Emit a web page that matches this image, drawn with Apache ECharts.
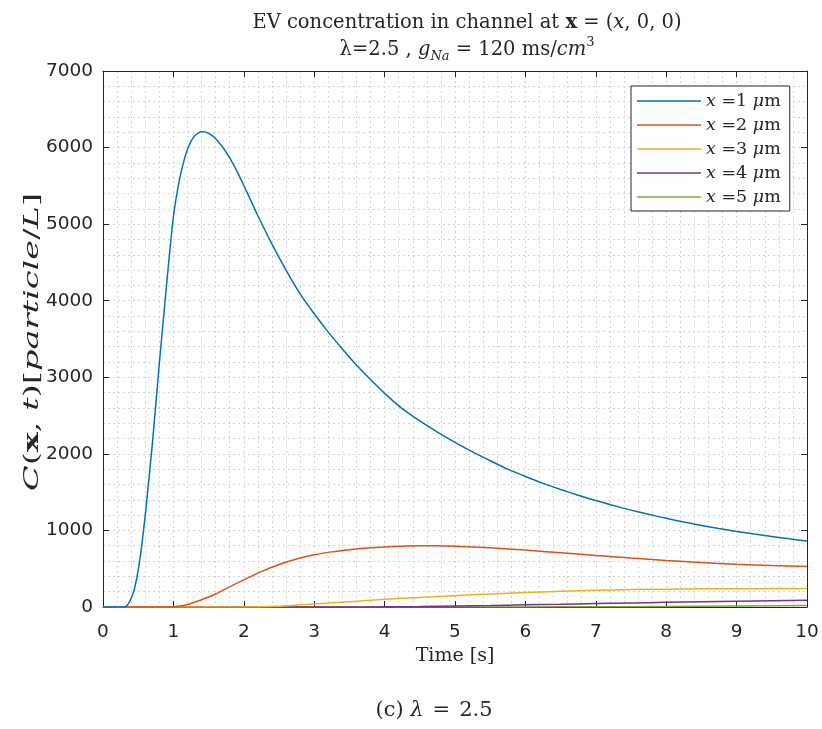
<!DOCTYPE html>
<html>
<head>
<meta charset="utf-8">
<script src="https://cdn.jsdelivr.net/npm/echarts@6/dist/echarts.min.js"></script>
<style>html,body{margin:0;padding:0;background:#fff}#c{width:822px;height:729px}</style>
</head>
<body>
<div id="c"></div>
<script>
// ---- data ----
const xTicks = [0,1,2,3,4,5,6,7,8,9,10];
const yTicks = [0,1000,2000,3000,4000,5000,6000,7000];
const seriesNames = ['x =1 μm','x =2 μm','x =3 μm','x =4 μm','x =5 μm'];

const blueT = [0,0.2,0.3,0.35,0.4,0.45,0.5,0.55,0.6,0.65,0.7,0.75,0.8,0.85,0.9,0.95,1.0,1.05,1.1,1.15,1.2,1.25,1.3,1.35,1.4,1.45,1.5,1.55,1.6,1.7,1.8,1.9,2.0,2.2,2.4,2.6,2.8,3.0,3.2,3.4,3.6,3.8,4.0,4.25,4.5,4.75,5.0,5.25,5.5,5.75,6.0,6.25,6.5,6.75,7.0,7.25,7.5,7.75,8.0,8.25,8.5,8.75,9.0,9.25,9.5,9.75,10];
const blueV = [0,0,0,30,110,250,480,800,1200,1650,2120,2650,3180,3680,4180,4660,5100,5400,5640,5830,5975,6080,6150,6190,6208,6205,6185,6155,6115,6005,5865,5695,5505,5110,4740,4400,4090,3830,3590,3370,3160,2970,2790,2590,2430,2285,2150,2025,1910,1800,1705,1615,1535,1460,1390,1325,1265,1210,1158,1110,1065,1025,987,952,920,890,862];

const orangeT = [0,0.9,1.0,1.1,1.2,1.3,1.4,1.5,1.6,1.75,2.0,2.25,2.5,2.75,3.0,3.25,3.5,3.75,4.0,4.25,4.5,4.75,5.0,5.5,6.0,6.5,7.0,7.5,8.0,8.5,9.0,9.5,10];
const orangeV = [0,0,3,12,32,62,95,130,170,240,355,462,555,628,682,720,748,770,785,795,800,799,793,773,743,709,673,639,608,581,558,541,528];

const yellowT = [0,2.0,2.5,3.0,3.5,4.0,4.5,5.0,5.5,6.0,6.5,7.0,7.5,8.0,8.5,9.0,9.5,10];
const yellowV = [0,0,10,40,70,100,125,148,170,188,205,218,227,233,237,239,240,240];

const purpleT = [0,3.5,4.0,4.5,5.0,5.5,6.0,6.5,7.0,7.5,8.0,8.5,9.0,9.5,10];
const purpleV = [0,0,3,7,13,20,28,36,45,53,61,68,75,82,88];

const greenT = [0,5.5,6.0,7.0,8.0,9.0,10];
const greenV = [0,0,1,3,7,13,20];

const colors = ['#0072BD','#D95319','#EDB120','#7E2F8E','#77AC30'];

function pairs(t, v){ return t.map((x,i)=>[x, v[i]]); }
const allT = [blueT, orangeT, yellowT, purpleT, greenT];
const allV = [blueV, orangeV, yellowV, purpleV, greenV];

const serif = '"DejaVu Serif","Liberation Serif",serif';
const sans = '"DejaVu Sans","Liberation Sans",Arial,sans-serif';
const ink = '#262626';
const grid = {left:103, right:15, top:71, bottom:122};

const splitStyle = {show:true, lineStyle:{color:'#d4d4d4', type:[2,3], width:1}};

const chart = echarts.init(document.getElementById('c'), null, {renderer:'canvas'});
chart.setOption({
  animation:false,
  backgroundColor:'#fff',
  title:{
    text:'EV concentration in channel at {b|x} = ({i|x}, 0, 0)\n{n|λ=2.5 , }{i|g}{sub|Na}{n| = 120 ms/}{i|cm}{sup|3}',
    left:462, top:4, textAlign:'center',
    textStyle:{
      fontFamily:serif, fontSize:19.5, fontWeight:'normal', color:ink, lineHeight:27,
      rich:{
        b:{fontFamily:serif, fontSize:19.5, fontWeight:'bold', color:ink},
        i:{fontFamily:serif, fontSize:19.5, fontStyle:'italic', color:ink},
        n:{fontFamily:serif, fontSize:19.5, color:ink},
        sub:{fontFamily:serif, fontSize:13, fontStyle:'italic', color:ink, verticalAlign:'bottom', padding:[8,0,0,0]},
        sup:{fontFamily:serif, fontSize:13, color:ink, verticalAlign:'top', padding:[0,0,8,0]}
      }
    }
  },
  legend:{
    orient:'vertical', left:631, top:86,
    data:seriesNames, icon:'rect',
    itemWidth:64, itemHeight:1.6, itemGap:6, padding:[6,9,5,6],
    borderColor:ink, borderWidth:1, backgroundColor:'#fff',
    formatter:function(name){ const m = name.match(/=(\d)/); return '{i|x} {n|='+m[1]+'} {i|μ}{n|m}'; },
    textStyle:{fontFamily:serif, fontSize:17.5, color:ink, lineHeight:16,
      rich:{i:{fontFamily:serif,fontSize:17.5,fontStyle:'italic',color:ink,lineHeight:16}, n:{fontFamily:serif,fontSize:17.5,color:ink,lineHeight:16}}}
  },
  grid:grid,
  xAxis:[{
    type:'value', min:0, max:10, interval:1,
    name:'Time [s]', nameLocation:'middle', nameGap:39,
    nameTextStyle:{fontFamily:serif, fontSize:19, color:ink},
    axisLine:{show:true, lineStyle:{color:ink, width:1}},
    axisTick:{show:true, inside:true, length:6, lineStyle:{color:ink}},
    axisLabel:{fontFamily:sans, fontSize:18.5, color:ink, margin:16, formatter:v=>String(v)},
    splitLine:splitStyle,
    minorTick:{show:false, splitNumber:5},
    minorSplitLine:splitStyle
  },{
    type:'value', min:0, max:10, interval:1, position:'top',
    axisLine:{show:true, onZero:false, lineStyle:{color:ink, width:1}},
    axisTick:{show:true, inside:true, length:6, lineStyle:{color:ink}},
    axisLabel:{show:false}, splitLine:{show:false}
  }],
  yAxis:[{
    type:'value', min:0, max:7000, interval:1000,
    axisLine:{show:true, lineStyle:{color:ink, width:1}},
    axisTick:{show:true, inside:true, length:6, lineStyle:{color:ink}},
    axisLabel:{fontFamily:sans, fontSize:18.5, color:ink, margin:10, formatter:v=>String(v)},
    splitLine:splitStyle,
    minorTick:{show:false, splitNumber:5},
    minorSplitLine:splitStyle
  },{
    type:'value', min:0, max:7000, interval:1000, position:'right',
    axisLine:{show:true, onZero:false, lineStyle:{color:ink, width:1}},
    axisTick:{show:true, inside:true, length:6, lineStyle:{color:ink}},
    axisLabel:{show:false}, splitLine:{show:false}
  }],
  graphic:[{
    type:'text', x:434, y:711,
    style:{text:'(c) {i|λ}{s|=}2.5', font:'21px '+serif, fill:ink, align:'center', verticalAlign:'middle',
      rich:{i:{fontFamily:serif,fontSize:21,fontStyle:'italic',fill:ink},
            s:{fontFamily:serif,fontSize:21,fill:ink,padding:[0,9,0,9]}}}
  },{
    type:'text', x:33, y:342, rotation:Math.PI/2, scaleX:1.6, scaleY:1,
    style:{text:'{i|C}{n|(}{b|x}{n|, }{i|t}{n|)[}{i|particle}{n|/}{i|L}{n|]}', font:'21px '+serif, fill:ink,
      align:'center', verticalAlign:'middle',
      rich:{
        i:{fontFamily:serif,fontSize:21,fontStyle:'italic',fill:ink},
        n:{fontFamily:serif,fontSize:21,fill:ink},
        b:{fontFamily:serif,fontSize:21,fontWeight:'bold',fill:ink}
      }}
  }],
  series: seriesNames.map((n,k)=>({
    name:n, type:'line', xAxisIndex:0, yAxisIndex:0,
    data:pairs(allT[k], allV[k]),
    showSymbol:false, symbol:'none', smooth:0.2,
    lineStyle:{color:colors[k], width:1.5},
    itemStyle:{color:colors[k]},
    z:10-k
  }))
});
</script>
</body>
</html>
